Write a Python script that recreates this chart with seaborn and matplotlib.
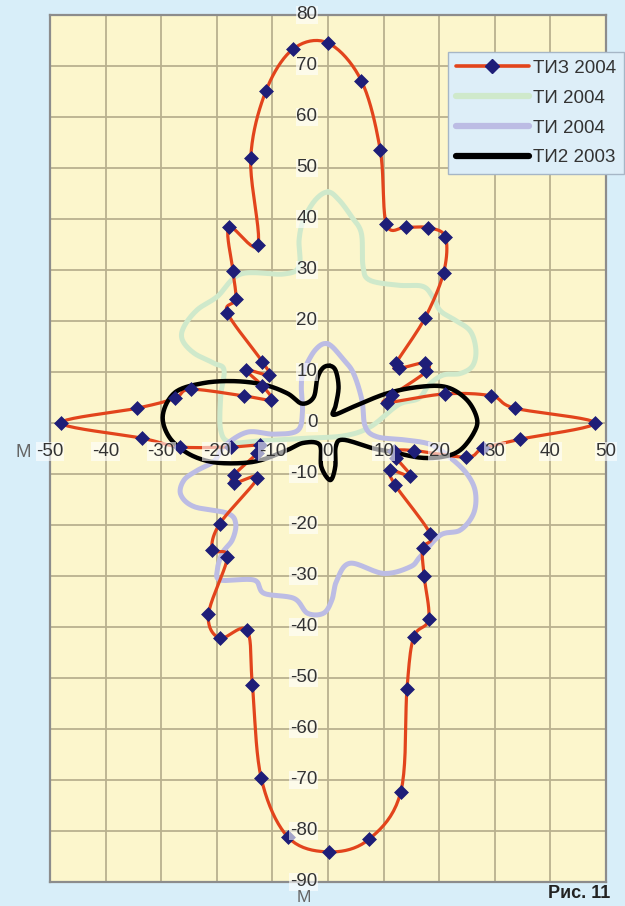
import numpy as np
import pandas as pd
import matplotlib
matplotlib.use("Agg")
import matplotlib.pyplot as plt
from matplotlib.lines import Line2D
import seaborn as sns

# ТИЗ 2004 — one reading every 5°, clockwise starting from the top
tiz_x = [0.0, 6.0, 9.4, 10.5, 14.0, 17.9, 21.1, 20.8, 17.4, 12.3, 12.7, 17.4,
         17.7, 11.5, 10.6, 21.0, 29.4, 33.6, 48.0, 34.5, 27.9, 24.9, 15.4, 11.8,
         12.3, 14.8, 11.2, 12.1, 18.4, 17.0, 17.3, 18.1, 15.4, 14.2, 13.1, 7.4,
         0.2, -7.2, -12.0, -13.6, -14.6, -19.5, -21.5, -18.1, -20.8, -19.5, -12.7, -16.9,
         -16.9, -12.7, -12.2, -17.4, -26.6, -33.4, -48.0, -34.3, -27.6, -24.7, -15.1, -10.3,
         -11.8, -14.7, -10.7, -11.8, -18.1, -16.6, -17.1, -17.8, -12.6, -13.9, -11.2, -6.3]
tiz_y = [74.5, 67.1, 53.5, 39.0, 38.4, 38.3, 36.5, 29.5, 20.5, 11.8, 10.7, 11.8,
         10.1, 5.4, 4.0, 5.7, 5.3, 2.9, 0.0, -3.2, -5.0, -6.7, -5.4, -5.5,
         -6.9, -10.4, -9.2, -12.2, -21.8, -24.6, -30.1, -38.5, -42.0, -52.2, -72.3, -81.6,
         -84.1, -81.2, -69.7, -51.4, -40.6, -42.2, -37.5, -26.3, -24.9, -19.8, -10.8, -11.8,
         -10.2, -5.9, -4.4, -4.7, -4.7, -3.0, 0.0, 2.9, 4.8, 6.6, 5.3, 4.6,
         7.3, 10.4, 9.4, 12.0, 21.6, 24.3, 29.8, 38.4, 34.9, 51.9, 65.0, 73.3]

# ТИ 2004 (green contour)
ti_g_x = [0.0, 2.0, 4.2, 6.0, 6.3, 7.5, 12.7, 17.0, 18.8, 20.2, 22.8, 25.6, 26.6,
          26.0, 23.8, 20.7, 18.2, 16.3, 12.7, 7.7, 3.0, -4.0, -12.0, -17.5, -19.3,
          -19.3, -18.7, -20.5, -24.1, -26.2, -25.9, -23.5, -19.9, -15.7, -8.0, -5.2,
          -5.2, -4.4, -2.3]
ti_g_y = [45.3, 43.7, 40.5, 37.2, 30.7, 28.0, 27.0, 26.8, 24.8, 22.0, 20.2, 18.0, 14.3,
          11.2, 9.7, 9.4, 7.5, 4.8, 3.6, -0.7, -2.5, -3.0, -3.5, -3.8, -1.4,
          5.2, 10.4, 11.7, 13.7, 16.3, 18.9, 22.2, 24.8, 29.2, 29.2, 30.7,
          35.9, 39.8, 43.7]

# ТИ 2004 (lavender contour)
ti_l_x = [0.0, 2.8, 4.6, 6.1, 6.7, 8.8, 13.6, 18.4, 22.0, 25.0, 26.5, 26.2, 23.8,
          20.2, 16.6, 14.8, 10.0, 4.0, 1.6, 0.7, -0.8, -3.7, -6.1, -11.5, -13.3,
          -19.3, -19.9, -19.0, -17.2, -16.6, -18.1, -24.1, -26.5, -25.9, -23.5, -20.5,
          -18.6, -14.5, -9.7, -5.5, -4.6, -4.8, -4.4, -2.3]
ti_l_y = [15.5, 12.4, 9.7, 4.5, -0.7, -2.7, -3.3, -4.2, -6.8, -10.0, -13.5, -17.7, -21.0,
          -22.0, -26.2, -28.2, -29.5, -27.5, -30.8, -34.7, -37.3, -37.3, -34.4, -33.4, -30.8,
          -30.8, -28.8, -25.5, -22.9, -19.7, -17.7, -16.4, -14.0, -11.2, -9.3, -7.5,
          -4.5, -1.8, -2.2, -1.5, 2.0, 7.1, 10.1, 14.3]

# ТИ2 2003 (black contour)
ti2_x = [0.4, 1.4, 1.9, 1.4, 1.0, 4.6, 10.6, 16.6, 21.4, 25.0, 26.8, 26.2, 23.8,
         20.8, 16.6, 11.2, 8.2, 2.8, 1.4, 1.3, 0.4, -1.2, -1.5, -4.4, -7.3, -12.1,
         -16.3, -21.1, -25.3, -28.6, -29.7, -27.5, -22.5, -16.9, -11.5, -7.3, -4.7,
         -2.6, -1.9, -0.9]
ti2_y = [11.2, 10.2, 7.0, 3.5, 1.6, 3.2, 5.8, 7.1, 7.0, 4.5, 0.8, -2.0, -5.3,
         -6.6, -6.8, -5.6, -5.0, -3.3, -4.6, -8.6, -11.2, -8.6, -4.3, -3.9, -5.3, -7.3,
         -7.9, -7.6, -5.9, -2.7, 1.6, 6.0, 7.8, 8.2, 7.5, 5.8, 3.8,
         5.0, 8.8, 10.8]

x_ticks = list(range(-50, 51, 10))
y_ticks = list(range(-90, 81, 10))
series_labels = ["ТИЗ 2004", "ТИ 2004", "ТИ 2004", "ТИ2 2003"]


def smooth_closed(xs, ys, steps=16):
    """Closed Bezier (Catmull-Rom style) path through the given points."""
    p = np.column_stack([xs, ys]).astype(float)
    n = len(p)
    t = np.linspace(0, 1, steps, endpoint=False)[:, None]
    parts = []
    for i in range(n):
        p0, p1, p2, p3 = p[i - 1], p[i], p[(i + 1) % n], p[(i + 2) % n]
        c1 = p1 + (p2 - p0) / 6.0
        c2 = p2 - (p3 - p1) / 6.0
        parts.append((1 - t) ** 3 * p1 + 3 * (1 - t) ** 2 * t * c1
                     + 3 * (1 - t) * t ** 2 * c2 + t ** 3 * p2)
    parts.append(p[:1])
    arr = np.vstack(parts)
    return pd.DataFrame({"x": arr[:, 0], "y": arr[:, 1]})


sns.set_style("white")
plt.rcParams["font.family"] = ["Liberation Sans", "DejaVu Sans"]

bg = "#d8eef9"
plot_bg = "#fcf6cc"
grid_c = "#b9b18e"
red = "#e2441c"
navy = "#1e1e78"
green = "#cfe9cb"
lav = "#bcbce4"
txt = "#333333"

fig = plt.figure(figsize=(6.25, 9.06), dpi=100, facecolor=bg)
ax = fig.add_axes([0.08, 0.0265, 0.8896, 0.9570])
ax.set_facecolor(plot_bg)
ax.set_xlim(-50, 50)
ax.set_ylim(-90, 80)
ax.set_xticks(x_ticks)
ax.set_yticks(y_ticks)
ax.grid(True, color=grid_c, lw=1.3)
ax.set_axisbelow(True)
ax.tick_params(labelbottom=False, labelleft=False, length=0)
for s in ax.spines.values():
    s.set_color("#8c8c8c")
    s.set_linewidth(1.6)

sns.lineplot(data=smooth_closed(ti_g_x, ti_g_y), x="x", y="y", sort=False,
             estimator=None, color=green, lw=3.6, ax=ax, zorder=2)
sns.lineplot(data=smooth_closed(ti_l_x, ti_l_y), x="x", y="y", sort=False,
             estimator=None, color=lav, lw=3.6, ax=ax, zorder=3)
sns.lineplot(data=smooth_closed(tiz_x, tiz_y, 10), x="x", y="y", sort=False,
             estimator=None, color=red, lw=2.3, ax=ax, zorder=4)
sns.lineplot(data=smooth_closed(ti2_x, ti2_y), x="x", y="y", sort=False,
             estimator=None, color="black", lw=3.2, ax=ax, zorder=5)
sns.scatterplot(x=tiz_x, y=tiz_y, marker="D", s=50, color=navy,
                edgecolor=navy, linewidth=0.5, ax=ax, zorder=6, legend=False)
ax.set_xlabel("")
ax.set_ylabel("")

# axis numbers along the central cross
box = dict(facecolor="white", alpha=0.6, edgecolor="none", pad=0.6)
for v in y_ticks:
    ax.text(-1.9, v, str(v), ha="right", va="center", fontsize=13.5,
            color=txt, bbox=box, zorder=7)
for v in x_ticks:
    ax.text(v, -5.6, str(v), ha="center", va="center", fontsize=13.5,
            color=txt, bbox=box, zorder=7)

fig.text(0.037, 0.501, "М", ha="center", va="center", fontsize=13.5, color="#666666")
fig.text(0.486, 0.0015, "М", ha="center", va="bottom", fontsize=12.5, color="#666666")
fig.text(0.976, 0.004, "Рис. 11", ha="right", va="bottom", fontsize=13,
         fontweight="bold", color="#222222")

handles = [
    Line2D([], [], color=red, lw=2.6, marker="D", markersize=7,
           markerfacecolor=navy, markeredgecolor=navy),
    Line2D([], [], color=green, lw=4.5),
    Line2D([], [], color=lav, lw=4.5),
    Line2D([], [], color="black", lw=4.5),
]
leg = ax.legend(handles, series_labels, loc="upper left",
                bbox_to_anchor=(0.716, 0.957), frameon=True, fancybox=False,
                facecolor="#ddeef8", edgecolor="#a6b6c6", fontsize=13.5,
                handlelength=3.9, handletextpad=0.25, labelspacing=0.68,
                borderpad=0.4, borderaxespad=0)
leg.get_frame().set_alpha(1)
leg.set_zorder(8)
for t in leg.get_texts():
    t.set_color(txt)

fig.savefig("out.png", dpi=100, facecolor=bg)
